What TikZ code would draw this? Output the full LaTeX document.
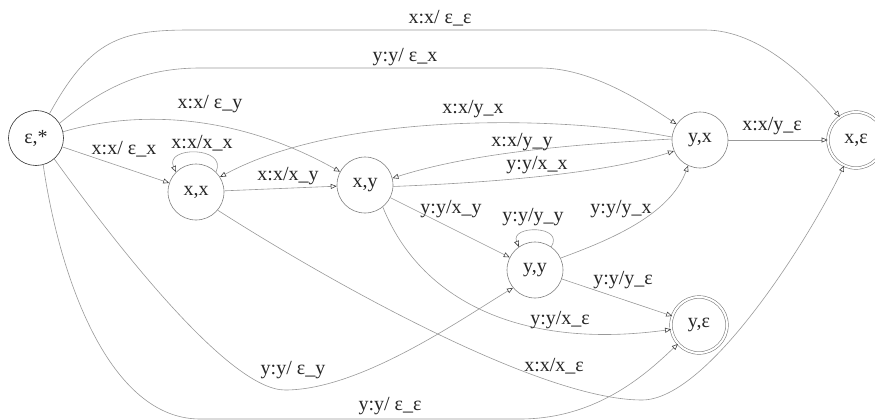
\documentclass[tikz,border=0pt]{standalone}
\usepackage{fontspec}
\setmainfont{Liberation Serif}
\usetikzlibrary{arrows.meta}
\begin{document}
\begin{tikzpicture}[x=1pt,y=-1pt,
  every node/.style={font=\fontsize{20}{22}\selectfont, text=black!85},
  st/.style={circle, draw=black!50, line width=0.6pt, minimum size=56pt, inner sep=0pt},
  acc/.style={st, double=white, double distance=2pt},
  ed/.style={draw=black!40, line width=0.6pt, -{Triangle[open,length=6pt,width=5pt,color=black!75]}},
  lbl/.style={inner sep=0pt}]
\clip (0,0) rectangle (875,420);
% states
\node[st, draw=black!80, minimum size=55pt] (E) at (36,138) {ε,*};
\node[st] (XX) at (196,192) {x,x};
\node[st] (XY) at (365,185) {x,y};
\node[st] (YY) at (535,270) {y,y};
\node[st] (YX) at (700,140) {y,x};
\node[acc] (XE) at (856,140) {x,ε};
\node[acc] (YE) at (699,325) {y,ε};
% edges
\draw[ed] (E.61) .. controls (90,40) and (120,30) .. (190,30) -- (705,30) .. controls (760,30) and (810,80) .. (XE.125);
\draw[ed] (E.32) .. controls (100,90) and (140,68) .. (200,68) -- (540,68) .. controls (590,68) and (640,100) .. (YX.146);
\draw[ed] (E.13) .. controls (130,112) and (230,110) .. (XY.152);
\draw[ed] (E) -- (XX);
\draw[ed] (XX.45) .. controls (228,146) and (164,146) .. (XX.135);
\draw[ed] (XX) -- (XY);
\draw[ed] (YX.174) .. controls (560,115) and (340,112) .. (XX.32);
\draw[ed] (YX.178) .. controls (600,143) and (480,150) .. (XY.14);
\draw[ed] (XY.-3) .. controls (480,183) and (600,175) .. (YX.203);
\draw[ed] (XY) -- (YY);
\draw[ed] (YY.55) .. controls (565,225) and (510,225) .. (YY.125);
\draw[ed] (YY.25) .. controls (610,240) and (670,215) .. (YX.245);
\draw[ed] (YX) -- (XE);
\draw[ed] (YY) -- (YE);
\draw[ed] (XY.-51) .. controls (420,300) and (520,350) .. (YE.189);
\draw[ed] (XX.-40) .. controls (330,282) and (540,400) .. (642,400) .. controls (710,400) and (814,230) .. (XE.245);
\draw[ed] (E.-49) .. controls (120,250) and (230,390) .. (285,390) .. controls (360,390) and (460,320) .. (YY.219);
\draw[ed] (E.-75) .. controls (60,280) and (110,419) .. (200,419) -- (520,419) .. controls (600,419) and (650,370) .. (YE.222);
% labels
\node[lbl] (l1) at (440,18) {x:x/ ε\_ε};
\node[lbl] (l2) at (405,57) {y:y/ ε\_x};
\node[lbl] (l3) at (210,104) {x:x/ ε\_y};
\node[lbl] (l4) at (124,149) {x:x/ ε\_x};
\node[lbl] (l5) at (202,143) {x:x/x\_x};
\node[lbl] (l6) at (288,176) {x:x/x\_y};
\node[lbl] (l7) at (473,109) {x:x/y\_x};
\node[lbl] (l8) at (522,142) {x:x/y\_y};
\node[lbl] (l9) at (537,165) {y:y/x\_x};
\node[lbl] (l10) at (451,209) {y:y/x\_y};
\node[lbl] (l11) at (533,217) {y:y/y\_y};
\node[lbl] (l12) at (621,209) {y:y/y\_x};
\node[lbl] (l13) at (772,126) {x:x/y\_ε};
\node[lbl] (l14) at (623,280) {y:y/y\_ε};
\node[lbl] (l15) at (560,320) {y:y/x\_ε};
\node[lbl] (l16) at (554,366) {x:x/x\_ε};
\node[lbl] (l17) at (293,370) {y:y/ ε\_y};
\node[lbl] (l18) at (390,406) {y:y/ ε\_ε};
\end{tikzpicture}
\end{document}
